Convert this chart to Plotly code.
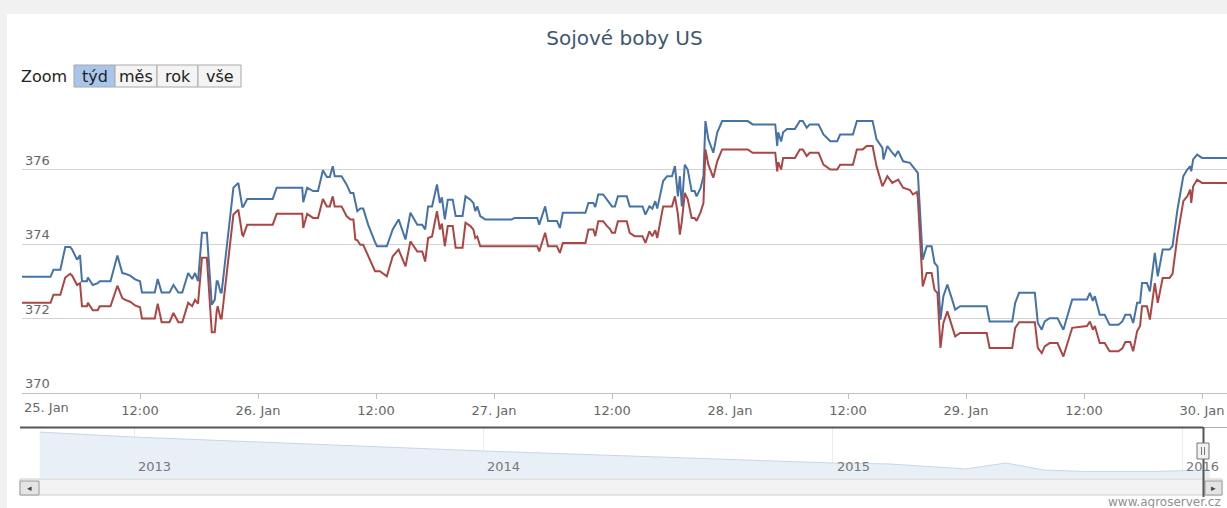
import plotly.graph_objects as go
import pandas as pd

# ---------------- data ----------------
start = pd.Timestamp("2016-01-25 00:00")
end_hours = 122.54

hours = [
    0.0, 2.9, 3.2, 3.9, 4.4, 4.9, 5.1, 5.6, 5.9, 6.1, 6.6, 6.7, 7.2, 7.7, 7.9, 9.0, 9.7, 10.2, 10.5, 11.0,
    11.5, 12.0, 12.2, 13.5, 13.8, 14.2, 15.0, 15.4, 15.9, 16.3, 16.9, 17.3, 17.6, 17.9, 18.3, 18.8, 19.3, 19.6,
    19.8, 19.9, 20.2, 20.3, 21.5, 22.0, 22.4, 22.5, 22.9, 25.5, 25.9, 28.5, 28.6, 29.0, 29.6, 30.1, 30.6,
    31.0, 31.3, 31.6, 31.8, 32.5, 33.0, 33.4, 33.7, 33.9, 34.1, 34.4, 34.7, 35.2, 35.7, 35.9, 36.1, 36.4, 37.1,
    37.7, 38.3, 39.0, 39.5, 40.2, 40.7, 41.0, 41.3, 41.7, 42.2, 42.5, 42.7, 43.0, 43.3, 43.8, 44.1, 44.8, 45.1,
    45.6, 45.9, 46.1, 46.3, 46.6, 47.1, 49.8, 50.1, 52.4, 52.6, 53.2, 53.5, 54.4, 54.7, 55.0, 57.3, 57.6, 58.1,
    58.3, 58.6, 59.1, 59.5, 59.8, 60.0, 60.3, 60.6, 61.5,
    61.8, 62.3, 63.1, 63.4, 63.8, 64.1, 64.4, 64.6, 65.2, 65.6, 66.1, 66.4, 66.7, 66.9, 67.1, 67.4, 67.7, 68.1,
    68.4, 68.6, 69.0, 69.3, 69.5, 69.8, 70.3, 70.7, 71.2, 73.8, 74.3, 76.6, 76.8, 76.9, 77.2, 77.4, 77.8, 78.6,
    79.1, 79.4, 79.8, 80.1, 81.0, 81.5, 82.2, 82.9, 83.2, 84.5, 84.9, 85.5, 85.9, 86.5, 86.9, 87.5, 87.6, 88.0,
    88.5, 88.8, 89.1, 89.6, 90.3, 90.6, 91.0, 91.1,
    91.6, 92.0, 92.5, 92.8, 93.1, 93.4, 93.7, 94.1, 94.6, 94.9, 95.4, 98.1, 98.4, 100.7, 101.0, 101.4, 103.0,
    103.3, 103.7, 104.0, 104.5, 105.3, 105.9, 106.8, 108.3, 108.6, 108.9, 109.1, 109.6, 110.1, 110.6, 111.5,
    111.9, 112.2, 112.7, 113.0, 113.4, 113.7, 113.9, 114.4, 114.7, 115.2, 115.5, 116.0, 116.7, 117.0, 117.5,
    118.1, 118.5, 118.8, 118.9, 119.1, 119.5, 120.0, 122.6,
]

blue = [
    373.12, 373.12, 373.31, 373.31, 373.92, 373.92, 373.85, 373.58, 373.70, 373.00, 373.00, 373.10, 372.90,
    372.95, 373.00, 373.00, 373.69, 373.22, 373.20, 373.15, 373.05, 373.00, 372.70, 372.70, 373.06, 372.70,
    372.70, 372.90, 372.70, 372.70, 373.22, 373.06, 373.22, 373.00, 374.30, 374.30, 372.37, 372.50, 373.00,
    373.00, 372.70, 372.70, 375.51, 375.64, 375.00, 375.00, 375.21, 375.21, 375.51, 375.51, 375.12, 375.51,
    375.42, 375.42, 375.98,
    375.80, 375.80, 376.09, 375.82, 375.82, 375.60, 375.37, 375.37, 375.10, 374.88, 374.95, 374.95, 374.52,
    374.16, 374.05, 373.94, 373.94, 373.94, 374.39, 374.66, 374.12, 374.84, 374.52, 374.52, 374.39, 375.01,
    375.01, 375.60, 375.10, 375.25, 374.66, 375.19, 375.19, 374.75, 374.75, 375.28, 375.19, 375.10, 374.88,
    375.01, 374.75, 374.66, 374.66, 374.70, 374.70, 374.52, 375.01, 374.62, 374.62, 374.43, 374.84, 374.84,
    375.10, 375.10, 374.99, 375.33, 375.33, 375.19, 375.10, 375.01, 375.01, 375.28, 375.28,
    375.01, 375.01, 375.01, 374.79, 375.01, 374.95, 375.15, 374.95, 375.69, 375.82, 375.82, 376.09, 375.28,
    375.82, 375.01, 376.13, 376.00, 375.42, 375.42, 375.28, 375.50, 375.82, 377.30, 376.81, 376.45, 376.99,
    377.30, 377.30, 377.21, 377.21, 376.63, 377.00, 376.75, 377.00, 377.09, 377.09, 377.30, 377.30, 377.12,
    377.21, 377.21, 376.94, 376.76, 376.76, 376.94, 376.94, 377.30, 377.30, 377.30, 377.30, 376.81, 376.58,
    376.27, 376.63, 376.45, 376.36, 376.50, 376.22, 376.18, 376.09, 375.95, 375.91,
    373.58, 373.94, 373.94, 373.49, 373.40, 371.97, 372.60, 372.91, 372.50, 372.24, 372.33, 372.33, 371.92,
    371.92, 372.42, 372.69, 372.69, 371.88, 371.70, 371.92, 372.01, 372.01, 371.70, 372.51, 372.51, 372.69,
    372.47, 372.60, 372.10, 372.10, 371.83, 371.83, 371.92, 372.10, 372.10, 371.88, 372.42, 372.42, 372.95,
    372.95, 372.73, 373.76, 373.13, 373.85, 373.85, 373.94, 374.92, 375.82, 376.00, 376.09, 375.95, 376.27,
    376.40, 376.31, 376.31,
]

red = [
    372.42, 372.42, 372.64, 372.64, 373.10, 373.20, 373.15, 372.90, 372.95, 372.33, 372.33, 372.42, 372.22,
    372.22, 372.33, 372.33, 372.88, 372.55, 372.50, 372.45, 372.35, 372.30, 372.00, 372.00, 372.40, 371.90,
    371.90, 372.15, 371.90, 371.90, 372.42, 372.33, 372.50, 372.40, 373.63, 373.63, 371.63, 371.63, 372.20,
    372.33, 372.00, 372.00, 374.79, 374.92, 374.25, 374.22, 374.52, 374.52, 374.81, 374.81, 374.43, 374.81,
    374.70, 374.70, 375.21,
    375.01, 375.01, 375.28, 375.01, 375.01, 374.75, 374.66, 374.66, 374.12, 374.10, 373.98, 373.98, 373.67,
    373.40, 373.27, 373.27, 373.27, 373.13, 373.67, 373.85, 373.40, 374.07, 373.80, 373.80, 373.53, 374.16,
    374.20, 374.88, 374.39, 374.55, 373.94, 374.48, 374.48, 373.90, 373.90, 374.57, 374.48, 374.39, 374.16,
    374.20, 373.94, 373.94, 373.94, 373.94, 373.94, 373.80, 374.30, 373.94, 373.94, 373.76, 374.03, 374.03,
    374.39, 374.39, 374.21, 374.61, 374.61, 374.48, 374.40, 374.30, 374.30, 374.61, 374.61,
    374.30, 374.21, 374.21, 374.03, 374.34, 374.21, 374.37, 374.16, 375.01, 375.01, 375.01, 375.28, 374.80,
    374.25, 374.60, 375.37, 375.20, 374.70, 374.70, 374.62, 374.85, 375.10, 376.54, 376.13, 375.78, 376.22,
    376.54, 376.54, 376.45, 376.45, 375.95, 376.20, 376.00, 376.31, 376.31, 376.31, 376.54, 376.54, 376.36,
    376.45, 376.45, 376.13, 376.00, 376.00, 376.13, 376.13, 376.54, 376.54, 376.63, 376.63, 376.09, 375.55,
    375.60, 375.82, 375.64, 375.68, 375.73, 375.51, 375.45, 375.33, 375.40, 375.24,
    372.86, 373.22, 373.22, 372.77, 372.68, 371.21, 371.88, 372.19, 371.75, 371.52, 371.61, 371.61, 371.21,
    371.21, 371.75, 371.90, 371.90, 371.21, 371.07, 371.25, 371.34, 371.34, 370.98, 371.75, 371.80, 371.92,
    371.70, 371.80, 371.34, 371.34, 371.12, 371.12, 371.20, 371.37, 371.37, 371.12, 371.66, 371.80, 372.33,
    372.33, 371.97, 372.95, 372.42, 373.09, 373.09, 373.20, 374.21, 375.15, 375.28, 375.46, 375.10, 375.55,
    375.73, 375.64, 375.64,
]

# navigator (full history overview)
nav_dates = ["2012-09-24", "2013-01-01", "2014-01-01", "2014-05-25", "2015-01-01", "2015-03-01",
             "2015-05-20", "2015-07-01", "2015-08-10", "2015-09-20", "2015-12-01", "2016-01-30"]
nav_vals = [619, 587, 498, 466, 421, 415, 383, 421, 376, 367, 367, 376]
nav_years = ["2013", "2014", "2015", "2016"]

y_ticks = [370, 372, 374, 376, 378]
y_ticktext = ["370", "372", "374", "376", ""]
x_tick_hours = [0, 12, 24, 36, 48, 60, 72, 84, 96, 108, 120]
x_ticktext = ["", "12:00", "26. Jan", "12:00", "27. Jan", "12:00", "28. Jan", "12:00", "29. Jan", "12:00", "30. Jan"]
first_label = "25. Jan"
title = "Sojové boby US"
zoom_buttons = ["týd", "měs", "rok", "vše"]
credit = "www.agroserver.cz"

# ---------------- figure ----------------
W, H = 1227, 508
ML, MR, MT, MB = 22, 0, 95, 30
PW, PH = W - ML - MR, H - MT - MB


def px(xp):
    return (xp - ML) / PW


def py(yp):
    return (H - MB - yp) / PH


times = start + pd.to_timedelta(hours, unit="h")
tickvals = [start + pd.Timedelta(hours=h) for h in x_tick_hours]
FONT = "DejaVu Sans"

fig = go.Figure()
fig.add_trace(go.Scatter(x=nav_dates, y=nav_vals, xaxis="x2", yaxis="y2", mode="lines",
                         line=dict(color="#c9d6e5", width=1), fill="tozeroy",
                         fillcolor="#e9eff6", hoverinfo="skip", showlegend=False))
fig.add_trace(go.Scatter(x=times, y=blue, mode="lines", name="řada 1",
                         line=dict(color="#4572A7", width=2), showlegend=False))
fig.add_trace(go.Scatter(x=times, y=red, mode="lines", name="řada 2",
                         line=dict(color="#AA4643", width=2), showlegend=False))

main_dom_bottom = py(393)
nav_dom_top = py(428)

fig.update_layout(
    width=W, height=H,
    margin=dict(l=ML, r=MR, t=MT, b=MB, autoexpand=False),
    paper_bgcolor="#f1f1f1", plot_bgcolor="white",
    hovermode=False,
    font=dict(family=FONT, color="#666666", size=13),
    title=dict(text=title, x=0.5, xref="paper", y=1 - 38 / H, yref="container",
               xanchor="center", yanchor="middle",
               font=dict(family=FONT, size=20, color="#3E576F")),
    xaxis=dict(type="date", range=[start, start + pd.Timedelta(hours=end_hours)],
               domain=[0, 1], anchor="y", showgrid=False, zeroline=False,
               showline=True, linecolor="#c0c0c0", linewidth=1,
               ticks="outside", ticklen=5, tickcolor="#c0c0c0",
               tickmode="array", tickvals=tickvals, ticktext=x_ticktext,
               tickfont=dict(size=13, color="#666666"), automargin=False),
    yaxis=dict(range=[370, 378], domain=[main_dom_bottom, 1], anchor="x",
               tickmode="array", tickvals=y_ticks, ticktext=y_ticktext,
               ticklabelposition="inside top", showgrid=True, gridcolor="#d3d3d3",
               gridwidth=1, zeroline=False, showline=False, ticks="",
               tickfont=dict(size=13, color="#666666"), automargin=False),
    xaxis2=dict(type="date", range=["2012-09-24 03:00", "2016-02-17"],
                domain=[px(39.5), 1], anchor="y2", showgrid=True, gridcolor="#ececec",
                tickmode="array", tickvals=["2013-01-01", "2014-01-01", "2015-01-01", "2016-01-01"],
                showticklabels=False, ticks="", zeroline=False, showline=False, automargin=False),
    yaxis2=dict(range=[325, 645], domain=[0, nav_dom_top], anchor="x2", showgrid=False,
                showticklabels=False, zeroline=False, ticks="", automargin=False),
)

shapes = []
# white chart container
shapes.append(dict(type="rect", xref="paper", yref="paper", x0=px(7), x1=px(1240), y0=py(14), y1=py(520),
                   fillcolor="white", line=dict(width=0), layer="below"))
# zoom buttons
btn_edges = [74, 115, 157, 198, 241]
for i, lab in enumerate(zoom_buttons):
    sel = i == 0
    shapes.append(dict(type="rect", xref="paper", yref="paper",
                       x0=px(btn_edges[i]), x1=px(btn_edges[i + 1]), y0=py(87), y1=py(65),
                       fillcolor="#a9c5ea" if sel else "#f4f4f4",
                       line=dict(color="#a8a8a8", width=1)))
# navigator outline
shapes.append(dict(type="line", xref="paper", yref="paper", x0=px(20), x1=px(1203), y0=py(427.5), y1=py(427.5),
                   line=dict(color="#555555", width=2)))
shapes.append(dict(type="line", xref="paper", yref="paper", x0=px(1203), x1=px(1227), y0=py(427.5), y1=py(427.5),
                   line=dict(color="#b0b0b0", width=1)))
# scrollbar track
shapes.append(dict(type="rect", xref="paper", yref="paper", x0=px(20), x1=px(1222), y0=py(495), y1=py(479),
                   fillcolor="#f3f3f3", line=dict(color="#cfcfcf", width=1)))
# scrollbar buttons
for x0, x1 in [(20, 39), (1205, 1222)]:
    shapes.append(dict(type="rect", xref="paper", yref="paper", x0=px(x0), x1=px(x1), y0=py(495), y1=py(481),
                       fillcolor="#e4e4e4", line=dict(color="#9a9a9a", width=1)))
# handle line
shapes.append(dict(type="line", xref="paper", yref="paper", x0=px(1203.5), x1=px(1203.5), y0=py(427), y1=py(497),
                   line=dict(color="#555555", width=2)))
# handle grip
shapes.append(dict(type="rect", xref="paper", yref="paper", x0=px(1197), x1=px(1209), y0=py(459), y1=py(443),
                   fillcolor="#f2f2f2", line=dict(color="#777777", width=1)))
for gx in [1201.5, 1204.5]:
    shapes.append(dict(type="line", xref="paper", yref="paper", x0=px(gx), x1=px(gx), y0=py(455), y1=py(447),
                       line=dict(color="#777777", width=1)))

annotations = []
annotations.append(dict(text=first_label, xref="x", yref="paper", x=start, y=py(407), xanchor="left",
                        yanchor="middle", showarrow=False, font=dict(size=13, color="#666666")))
annotations.append(dict(text="Zoom", xref="paper", yref="paper", x=px(19), y=py(76), xanchor="left",
                        yanchor="middle", showarrow=False, font=dict(size=16, color="#222222")))
for i, lab in enumerate(zoom_buttons):
    annotations.append(dict(text=lab, xref="paper", yref="paper", x=px((btn_edges[i] + btn_edges[i + 1]) / 2),
                            y=py(76), xanchor="center", yanchor="middle", showarrow=False,
                            font=dict(size=16, color="#222222")))
for yr in nav_years:
    annotations.append(dict(text=yr, xref="x2", yref="paper", x=f"{yr}-01-01", y=py(466), xanchor="left",
                            xshift=2, yanchor="middle", showarrow=False, font=dict(size=13, color="#777777")))
annotations.append(dict(text="◂", xref="paper", yref="paper", x=px(29.5), y=py(488), xanchor="center",
                        yanchor="middle", showarrow=False, font=dict(size=9, color="#444444")))
annotations.append(dict(text="▸", xref="paper", yref="paper", x=px(1213.5), y=py(488), xanchor="center",
                        yanchor="middle", showarrow=False, font=dict(size=9, color="#444444")))
annotations.append(dict(text=credit, xref="paper", yref="paper", x=px(1223), y=py(502), xanchor="right",
                        yanchor="middle", showarrow=False, font=dict(size=12, color="#909090")))

fig.update_layout(shapes=shapes, annotations=annotations)
fig.write_html("out.html", config={"displayModeBar": False},
               post_script="document.body.style.margin='0px';document.body.style.overflow='hidden';")
